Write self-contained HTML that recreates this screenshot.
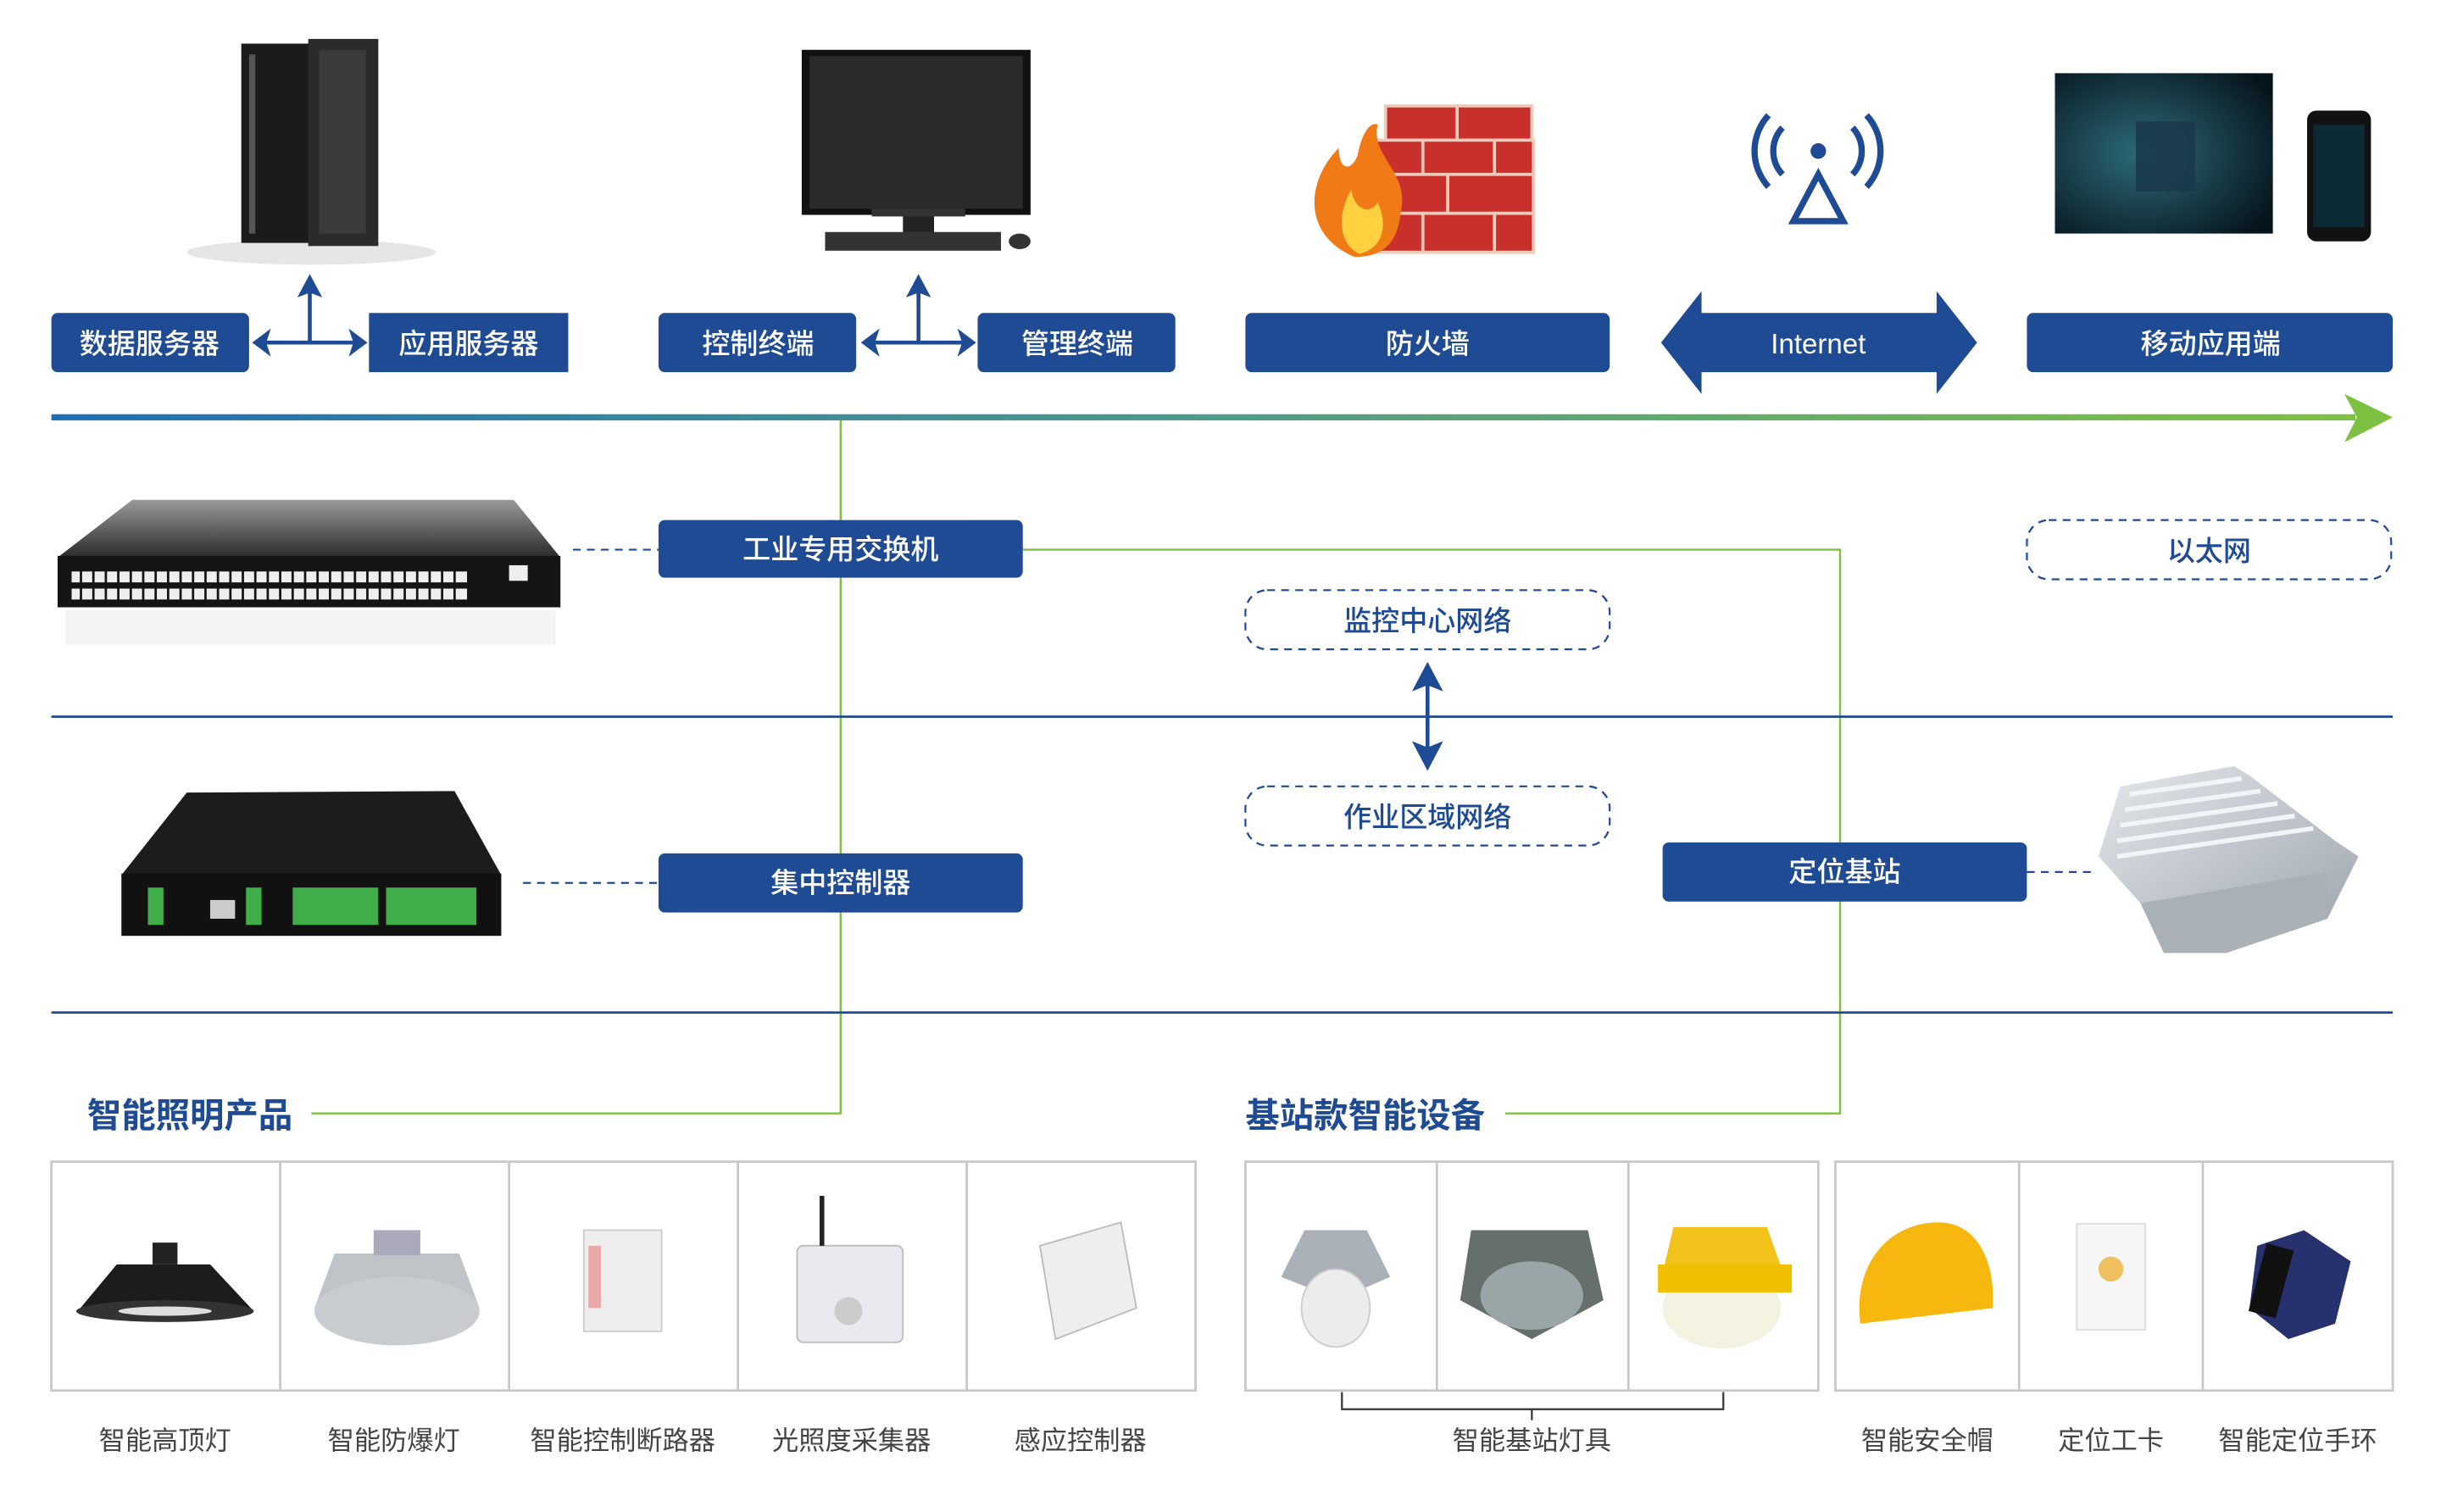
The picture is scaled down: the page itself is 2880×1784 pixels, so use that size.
<!DOCTYPE html>
<html><head><meta charset="utf-8"><style>
html,body{margin:0;padding:0;background:#fff;width:2880px;height:1784px;overflow:hidden}
svg{display:block}
text{font-family:"Liberation Sans","Noto Sans CJK SC",sans-serif}
</style></head><body>
<svg width="2880" height="1784" viewBox="0 0 1568 971" preserveAspectRatio="none" xmlns="http://www.w3.org/2000/svg">
<defs>
<linearGradient id="g1" x1="0" x2="1" y1="0" y2="0"><stop offset="0" stop-color="#1f6fb5"/><stop offset="0.5" stop-color="#4f9a8a"/><stop offset="1" stop-color="#7dc142"/></linearGradient>
<linearGradient id="sil" x1="0" x2="1" y1="0" y2="1"><stop offset="0" stop-color="#e4e8ec"/><stop offset="1" stop-color="#9aa2aa"/></linearGradient>
<linearGradient id="dk" x1="0" x2="0" y1="0" y2="1"><stop offset="0" stop-color="#9a9a9a"/><stop offset="1" stop-color="#2a2a2a"/></linearGradient>
<radialGradient id="scr" cx="0.4" cy="0.5" r="0.7"><stop offset="0" stop-color="#2c6a78"/><stop offset="1" stop-color="#06141c"/></radialGradient>
</defs>

<ellipse cx="200" cy="162" rx="80" ry="8" fill="#e6e6e6"/>
<rect x="155" y="28" width="45" height="128" fill="#1b1b1b"/>
<rect x="198" y="25" width="45" height="133" fill="#2b2b2b"/>
<rect x="160" y="35" width="4" height="115" fill="#555"/>
<rect x="205" y="32" width="30" height="118" fill="#3a3a3a"/>

<rect x="515" y="32" width="147" height="106" fill="#111"/>
<rect x="520" y="36" width="137" height="98" fill="#2a2a2a"/>
<rect x="580" y="138" width="20" height="12" fill="#222"/>
<rect x="560" y="134" width="60" height="5" fill="#333"/>
<rect x="530" y="149" width="113" height="12" fill="#333"/>
<ellipse cx="655" cy="155" rx="7" ry="5" fill="#333"/>

<g fill="#c9302c" stroke="#f2c9b8" stroke-width="2">
<rect x="890" y="68" width="46" height="22"/><rect x="936" y="68" width="48" height="22"/>
<rect x="880" y="90" width="34" height="22"/><rect x="914" y="90" width="46" height="22"/><rect x="960" y="90" width="25" height="22"/>
<rect x="880" y="112" width="50" height="25"/><rect x="930" y="112" width="55" height="25"/>
<rect x="880" y="137" width="34" height="25"/><rect x="914" y="137" width="46" height="25"/><rect x="960" y="137" width="25" height="25"/>
</g>
<path d="M870 165 C835 150 840 115 860 95 C860 110 868 110 872 100 C875 85 880 78 885 80 C880 100 905 110 900 135 C898 155 890 165 870 165Z" fill="#f07a16"/>
<path d="M873 163 C858 155 860 135 868 122 C870 135 880 138 885 130 C892 145 888 160 873 163Z" fill="#ffd040"/>

<g fill="none" stroke="#1f4a94" stroke-width="4">
<path d="M1145 82 A22 22 0 0 0 1145 112"/><path d="M1190 82 A22 22 0 0 1 1190 112"/>
<path d="M1136 74 A34 34 0 0 0 1136 120"/><path d="M1199 74 A34 34 0 0 1 1199 120"/>
<path d="M1168 112 L1152 142 L1184 142 Z"/>
</g>
<circle cx="1168" cy="97" r="5" fill="#1f4a94"/>

<rect x="1320" y="47" width="140" height="103" fill="url(#scr)"/>
<rect x="1372" y="78" width="38" height="45" fill="#1b3a4a" opacity="0.9"/>
<rect x="1482" y="71" width="41" height="84" rx="6" fill="#111"/>
<rect x="1486" y="80" width="33" height="66" fill="#0c2a36"/>

<g fill="#1f4a94">
<rect x="33" y="201" width="127" height="38" rx="4"/>
<rect x="237" y="201" width="128" height="38"/>
<rect x="423" y="201" width="127" height="38" rx="4"/>
<rect x="628" y="201" width="127" height="38" rx="4"/>
<rect x="800" y="201" width="234" height="38" rx="4"/>
<path d="M1067 220 L1093 187 L1093 201 L1244 201 L1244 187 L1270 220 L1244 253 L1244 239 L1093 239 L1093 253 Z"/>
<rect x="1302" y="201" width="235" height="38" rx="4"/>
</g>
<g fill="#fff" font-size="18" text-anchor="middle" font-weight="500">
<text x="96" y="227">数据服务器</text>
<text x="301" y="227">应用服务器</text>
<text x="487" y="227">控制终端</text>
<text x="692" y="227">管理终端</text>
<text x="917" y="227">防火墙</text>
<text x="1168" y="227">Internet</text>
<text x="1420" y="227">移动应用端</text>
</g>
<g stroke="#1f4a94" stroke-width="2.5" fill="none">
<path d="M170 220 H228 M199 220 V186"/>
<path d="M562 220 H620 M590 220 V186"/>
</g>
<g fill="#1f4a94">
<path d="M162 220 L174 211 L171 220 L174 229Z"/><path d="M236 220 L224 211 L227 220 L224 229Z"/><path d="M199 176 L191 191 L199 188 L207 191Z"/>
<path d="M553 220 L565 211 L562 220 L565 229Z"/><path d="M627 220 L615 211 L618 220 L615 229Z"/><path d="M590 176 L582 191 L590 188 L598 191Z"/>
</g>

<rect x="33" y="266" width="1480" height="4" fill="url(#g1)"/>
<path d="M1506 253 L1537 268 L1506 284 L1514 268Z" fill="#7dc142"/>

<g stroke="#7dc142" stroke-width="1.3" fill="none">
<path d="M540 270 V715 H200"/>
<path d="M657 353 H1182 V715 H967"/>
</g>

<rect x="33" y="459.5" width="1504" height="1.5" fill="#1f4a94"/>
<rect x="33" y="649.5" width="1504" height="1.5" fill="#1f4a94"/>

<g fill="#1f4a94">
<rect x="423" y="334" width="234" height="37" rx="4"/>
<rect x="423" y="548" width="234" height="38" rx="4"/>
<rect x="1068" y="541" width="234" height="38" rx="4"/>
</g>
<g fill="#fff" font-size="18" text-anchor="middle" font-weight="500">
<text x="540" y="359">工业专用交换机</text>
<text x="540" y="573">集中控制器</text>
<text x="1185" y="566">定位基站</text>
</g>
<g fill="none" stroke="#1f4a94" stroke-width="1.2" stroke-dasharray="5 4">
<rect x="1302" y="334" width="234" height="38" rx="14"/>
<rect x="800" y="379" width="234" height="38" rx="14"/>
<rect x="800" y="505" width="234" height="38" rx="14"/>
<path d="M368 353 H423"/><path d="M336 567 H423"/><path d="M1302 560 H1343"/>
</g>
<g fill="#1f4a94" font-size="18" text-anchor="middle" font-weight="500">
<text x="1419" y="360">以太网</text>
<text x="917" y="405">监控中心网络</text>
<text x="917" y="531">作业区域网络</text>
</g>
<path d="M917 434 V488" stroke="#1f4a94" stroke-width="2.5"/>
<path d="M917 425 L907 444 L917 440 L927 444Z M917 495 L907 476 L917 480 L927 476Z" fill="#1f4a94"/>

<path d="M85 321 L330 321 L360 358 L37 358Z" fill="url(#dk)"/>
<rect x="37" y="357" width="323" height="33" fill="#151515"/>
<g fill="#eee">
<rect x="46" y="367" width="254" height="7"/><rect x="46" y="378" width="254" height="7"/>
</g>
<g stroke="#151515" stroke-width="1.5">
<path d="M52 366 V386 M60 366 V386 M68 366 V386 M76 366 V386 M84 366 V386 M92 366 V386 M100 366 V386 M108 366 V386 M116 366 V386 M124 366 V386 M132 366 V386 M140 366 V386 M148 366 V386 M156 366 V386 M164 366 V386 M172 366 V386 M180 366 V386 M188 366 V386 M196 366 V386 M204 366 V386 M212 366 V386 M220 366 V386 M228 366 V386 M236 366 V386 M244 366 V386 M252 366 V386 M260 366 V386 M268 366 V386 M276 366 V386 M284 366 V386 M292 366 V386"/>
</g>
<rect x="327" y="363" width="12" height="10" fill="#eee"/>
<rect x="42" y="392" width="315" height="22" fill="#f4f4f4"/>

<path d="M120 509 L292 508 L322 562 L78 562Z" fill="#1c1c1c"/>
<rect x="78" y="561" width="244" height="40" fill="#111"/>
<g fill="#3fae49">
<rect x="95" y="570" width="10" height="24"/><rect x="158" y="570" width="10" height="24"/>
<rect x="188" y="570" width="55" height="24"/><rect x="248" y="570" width="58" height="24"/>
</g>
<rect x="135" y="578" width="16" height="12" fill="#ccc"/>

<path d="M1362 505 L1435 492 L1445 498 L1500 540 L1515 550 L1495 590 L1430 612 L1390 612 L1375 580 L1348 550 Z" fill="url(#sil)"/>
<path d="M1375 580 L1495 560 L1495 590 L1430 612 L1390 612Z" fill="#a9b0b6"/>
<g stroke="#f2f4f6" stroke-width="3">
<path d="M1368 510 L1440 500 M1365 520 L1452 508 M1362 530 L1463 516 M1360 540 L1474 524 M1360 550 L1486 532"/>
</g>

<g fill="#1f4a94" font-size="22" font-weight="bold">
<text x="56" y="724">智能照明产品</text>
<text x="800" y="724">基站款智能设备</text>
</g>

<g fill="none" stroke="#c8c8c8" stroke-width="1.5">
<rect x="33" y="746" width="735" height="147"/>
<path d="M180 746 V893 M327 746 V893 M474 746 V893 M621 746 V893"/>
<rect x="800" y="746" width="368" height="147"/>
<path d="M923 746 V893 M1046 746 V893"/>
<rect x="1179" y="746" width="358" height="147"/>
<path d="M1297 746 V893 M1415 746 V893"/>
</g>
<path d="M50 842 L75 812 L135 812 L163 842 Z" fill="#1c1c1c"/><ellipse cx="106" cy="842" rx="57" ry="7" fill="#333"/><ellipse cx="106" cy="842" rx="30" ry="3" fill="#ddd"/><rect x="98" y="798" width="16" height="14" fill="#222"/>
<path d="M215 805 L295 805 L308 840 L202 840 Z" fill="#bfc4c8"/><ellipse cx="255" cy="842" rx="53" ry="22" fill="#c8ccd0"/><rect x="240" y="790" width="30" height="16" fill="#aab"/>
<rect x="375" y="790" width="50" height="65" fill="#eee" stroke="#ccc"/><rect x="378" y="800" width="8" height="40" fill="#e04040" opacity=".4"/>
<rect x="512" y="800" width="68" height="62" rx="4" fill="#e8eaf0" stroke="#bbb"/><path d="M528 768 V800" stroke="#222" stroke-width="3"/><circle cx="545" cy="842" r="9" fill="#ccc"/>
<path d="M668 800 L720 785 L730 840 L678 860 Z" fill="#eee" stroke="#bbb"/>
<path d="M838 790 L878 790 L893 820 L870 830 L848 830 L823 820Z" fill="#aab0b8"/><ellipse cx="858" cy="840" rx="22" ry="25" fill="#ececec" stroke="#ccc"/>
<path d="M945 790 L1020 790 L1030 835 L984 860 L938 835Z" fill="#66706a"/><ellipse cx="984" cy="832" rx="33" ry="22" fill="#9aa5a8"/>
<path d="M1075 788 L1135 788 L1150 830 L1065 830Z" fill="#f2c21a"/><ellipse cx="1106" cy="840" rx="38" ry="26" fill="#f4f2e0"/><rect x="1065" y="812" width="86" height="18" fill="#f0c000"/>
<path d="M1195 850 C1190 810 1215 785 1245 785 C1270 785 1282 810 1280 840 Z" fill="#f6b80e"/>
<rect x="1334" y="786" width="44" height="68" fill="#f6f6f6" stroke="#ddd"/><circle cx="1356" cy="815" r="8" fill="#f0c060"/>
<path d="M1450 800 L1480 790 L1510 810 L1500 850 L1470 860 L1445 840Z" fill="#26316e"/><rect x="1450" y="800" width="18" height="45" fill="#111" transform="rotate(15 1459 822)"/>

<path d="M862 894 V905 H1107 V894 M984 905 V912" fill="none" stroke="#333" stroke-width="1.2"/>

<g fill="#444" font-size="17" text-anchor="middle">
<text x="106" y="931">智能高顶灯</text>
<text x="253" y="931">智能防爆灯</text>
<text x="400" y="931">智能控制断路器</text>
<text x="547" y="931">光照度采集器</text>
<text x="694" y="931">感应控制器</text>
<text x="984" y="931">智能基站灯具</text>
<text x="1238" y="931">智能安全帽</text>
<text x="1356" y="931">定位工卡</text>
<text x="1476" y="931">智能定位手环</text>
</g>
</svg>
</body></html>
